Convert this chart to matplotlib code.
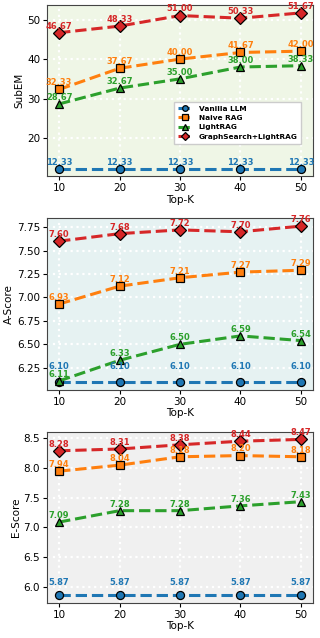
"""Top-K sensitivity plots for SubEM, A-Score and E-Score."""

import matplotlib

matplotlib.use("Agg")
import matplotlib.pyplot as plt
from matplotlib.ticker import MultipleLocator

top_k = [10, 20, 30, 40, 50]

methods = ["Vanilla LLM", "Naive RAG", "LightRAG", "GraphSearch+LightRAG"]

subem = {
    "Vanilla LLM": [12.33, 12.33, 12.33, 12.33, 12.33],
    "Naive RAG": [32.33, 37.67, 40.00, 41.67, 42.00],
    "LightRAG": [28.67, 32.67, 35.00, 38.00, 38.33],
    "GraphSearch+LightRAG": [46.67, 48.33, 51.00, 50.33, 51.67],
}
a_score = {
    "Vanilla LLM": [6.10, 6.10, 6.10, 6.10, 6.10],
    "Naive RAG": [6.93, 7.12, 7.21, 7.27, 7.29],
    "LightRAG": [6.11, 6.33, 6.50, 6.59, 6.54],
    "GraphSearch+LightRAG": [7.60, 7.68, 7.72, 7.70, 7.76],
}
e_score = {
    "Vanilla LLM": [5.87, 5.87, 5.87, 5.87, 5.87],
    "Naive RAG": [7.94, 8.04, 8.18, 8.20, 8.18],
    "LightRAG": [7.09, 7.28, 7.28, 7.36, 7.43],
    "GraphSearch+LightRAG": [8.28, 8.31, 8.38, 8.44, 8.47],
}

colors = ["#1f77b4", "#ff7f0e", "#2ca02c", "#d62728"]
markers = ["o", "s", "^", "D"]

# data, y label, background, y tick step, offset of the Vanilla labels
panels = [
    (subem, "SubEM", "#eff6e6", 10, 1.5),
    (a_score, "A-Score", "#e6f2f2", 0.25, 8),
    (e_score, "E-Score", "#f0f0f0", 0.5, 6),
]

fig, axes = plt.subplots(3, 1, figsize=(3.2, 6.38), dpi=100)

for ax, (data, ylabel, bg, step, vanilla_off) in zip(axes, panels):
    ax.set_facecolor(bg)
    ax.grid(True, color="white", linestyle=":", linewidth=1.6)
    ax.set_axisbelow(True)
    for name, color, marker in zip(methods, colors, markers):
        ys = data[name]
        ax.plot(
            top_k,
            ys,
            linestyle="--",
            linewidth=2.2,
            color=color,
            marker=marker,
            markersize=5.8,
            markeredgecolor="black",
            markeredgewidth=0.9,
            label=name,
        )
        off = vanilla_off if name == "Vanilla LLM" else 1.5
        for x, y in zip(top_k, ys):
            ax.annotate(
                f"{y:.2f}",
                (x, y),
                textcoords="offset points",
                xytext=(0, off),
                ha="center",
                va="bottom",
                fontsize=6,
                fontweight="bold",
                color=color,
                zorder=5,
            )
    ax.set_xticks(top_k)
    ax.set_xlim(8, 52)
    ax.yaxis.set_major_locator(MultipleLocator(step))
    ax.set_xlabel("Top-K", fontsize=7.5, labelpad=1)
    ax.set_ylabel(ylabel, fontsize=7.5, labelpad=2)
    ax.tick_params(labelsize=7.5, length=3, pad=2)
    for spine in ax.spines.values():
        spine.set_color("#444444")

axes[1].yaxis.set_major_formatter(plt.FormatStrFormatter("%.2f"))

axes[0].legend(
    loc="lower right",
    bbox_to_anchor=(0.97, 0.17),
    prop={"size": 5.3, "weight": "bold"},
    markerscale=0.7,
    handlelength=2.0,
    borderpad=0.5,
    labelspacing=0.45,
    fancybox=False,
    framealpha=1.0,
)

plt.subplots_adjust(left=0.147, right=0.978, top=0.992, bottom=0.055, hspace=0.245)
plt.savefig("out.png")
plt.close()
